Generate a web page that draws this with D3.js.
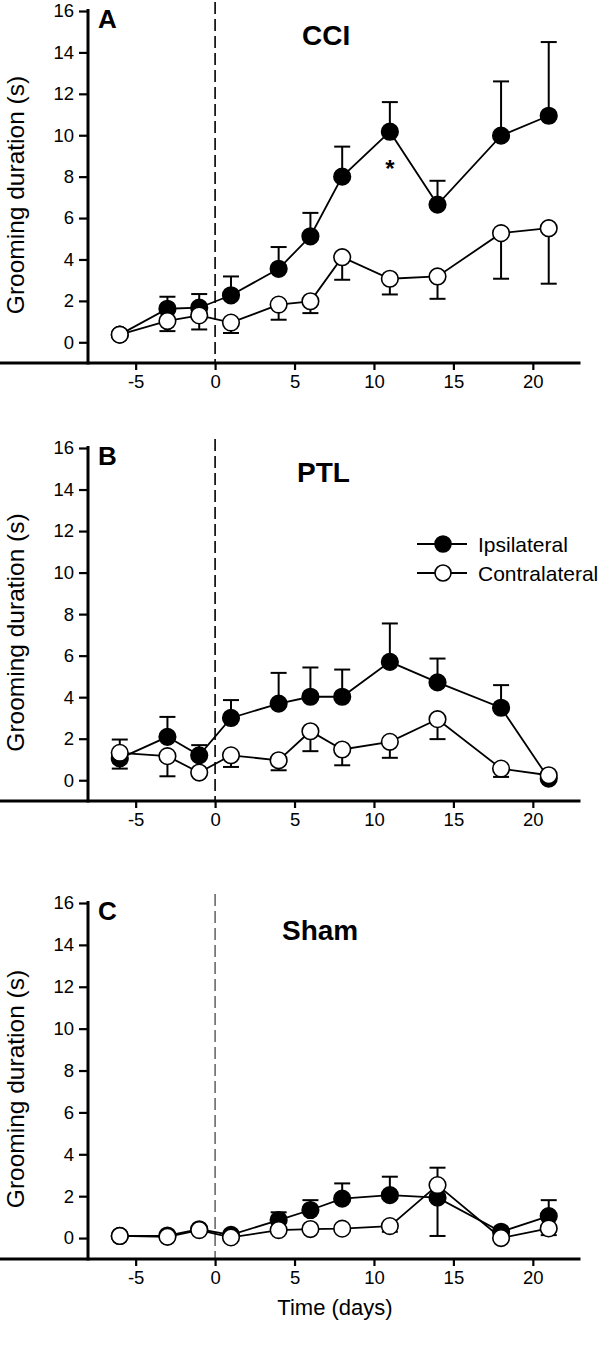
<!DOCTYPE html>
<html>
<head>
<meta charset="utf-8">
<script src="https://cdn.jsdelivr.net/npm/d3@7"></script>
<style>
  html, body { margin: 0; padding: 0; background: #fff; }
  svg { display: block; font-family: "Liberation Sans", Arial, sans-serif; }
</style>
</head>
<body>
<svg id="chart" width="600" height="1353"></svg>
<script>
// ---------------- data ----------------
const days = [-6, -3, -1, 1, 4, 6, 8, 11, 14, 18, 21];
const xTicks = [-5, 0, 5, 10, 15, 20];
const yTicks = [0, 2, 4, 6, 8, 10, 12, 14, 16];
const seriesNames = ["Ipsilateral", "Contralateral"];
const panelLetters = ["A", "B", "C"];
const panelTitles = ["CCI", "PTL", "Sham"];

// CCI
const cciIpsi      = [0.37, 1.62, 1.67, 2.27, 3.55, 5.12, 8.0, 10.17, 6.65, 9.98, 10.94];
const cciIpsiErr   = [null, 2.2, 2.33, 3.18, 4.6, 6.25, 9.45, 11.6, 7.8, 12.6, 14.5];
const cciContra    = [0.37, 1.03, 1.30, 0.95, 1.82, 1.98, 4.11, 3.07, 3.18, 5.27, 5.51];
const cciContraErr = [null, 0.54, 0.62, 0.45, 1.09, 1.41, 3.02, 2.31, 2.1, 3.07, 2.83];
// PTL
const ptlIpsi      = [1.05, 2.09, 1.2, 3.0, 3.69, 4.02, 4.02, 5.70, 4.71, 3.49, 0.08];
const ptlIpsiErr   = [1.96, 3.05, 1.69, 3.86, 5.17, 5.43, 5.33, 7.55, 5.86, 4.58, null];
const ptlContra    = [1.32, 1.16, 0.37, 1.2, 0.96, 2.36, 1.48, 1.85, 2.94, 0.56, 0.24];
const ptlContraErr = [0.56, 0.19, null, 0.64, 0.48, 1.40, 0.72, 1.08, 1.98, 0.16, null];
// Sham
const shamIpsi      = [0.1, 0.12, 0.42, 0.15, 0.86, 1.34, 1.88, 2.05, 1.93, 0.3, 1.05];
const shamIpsiErr   = [null, null, null, null, 1.23, 1.81, 2.61, 2.93, 0.1, null, 1.81];
const shamContra    = [0.1, 0.06, 0.38, 0.03, 0.38, 0.43, 0.45, 0.57, 2.53, 0.0, 0.46];
const shamContraErr = [null, null, null, null, 0.22, null, null, 0.3, 3.36, null, 0.14];

// significance marker (panel A, day 11)
const starDay = 11;
const starValue = 8.6;

// ---------------- layout ----------------
const svg = d3.select("#chart");
const panels = [
  {ipsi: cciIpsi, ipsiErr: cciIpsiErr, contra: cciContra, contraErr: cciContraErr, top: 11, bottom: 363, dash: "#000", dashW: 1.6},
  {ipsi: ptlIpsi, ipsiErr: ptlIpsiErr, contra: ptlContra, contraErr: ptlContraErr, top: 448, bottom: 801, dash: "#000", dashW: 1.6},
  {ipsi: shamIpsi, ipsiErr: shamIpsiErr, contra: shamContra, contraErr: shamContraErr, top: 903, bottom: 1259, dash: "#555", dashW: 1.4}
];

const x = d3.scaleLinear().domain([-8, 23]).range([88, 580.5]);

panels.forEach((p, pi) => {
  const y = d3.scaleLinear().domain([-1, 16]).range([p.bottom, p.top]);
  const g = svg.append("g");

  // dashed line at day 0
  g.append("line")
    .attr("x1", x(0)).attr("x2", x(0))
    .attr("y1", Math.max(0, p.top - 9)).attr("y2", p.bottom)
    .attr("stroke", p.dash).attr("stroke-width", p.dashW)
    .attr("stroke-dasharray", "12,5");

  // axes
  const yAxis = d3.axisLeft(y).tickValues(yTicks).tickSize(9).tickSizeOuter(0).tickPadding(5);
  const ya = g.append("g").attr("transform", `translate(${x(-8)},0)`).call(yAxis);
  const xAxis = d3.axisBottom(x).tickValues(xTicks).tickSize(7).tickSizeOuter(0).tickPadding(5)
    .tickFormat(d3.format("d"));
  const xa = g.append("g").attr("transform", `translate(0,${p.bottom})`).call(xAxis);
  [ya, xa].forEach(a => {
    a.attr("font-family", null).attr("font-size", 18.5);
    a.select(".domain").attr("stroke", "#000").attr("stroke-width", 3);
    a.selectAll(".tick line").attr("stroke", "#000").attr("stroke-width", 2.2);
    a.selectAll(".tick text").attr("fill", "#000").attr("font-size", 18.5);
  });
  xa.selectAll(".tick text").text(d => d < 0 ? "-" + Math.abs(d) : d);
  // make domain lines meet at the corner
  ya.select(".domain").attr("d", `M0,${p.top - 2}V${p.bottom + 1.5}`);
  xa.select(".domain").attr("d", `M${-1.5},0H${580.5}`);

  // y label
  g.append("text")
    .attr("transform", `translate(24,${(p.top + p.bottom) / 2 + 8}) rotate(-90)`)
    .attr("text-anchor", "middle")
    .attr("font-size", 24.5)
    .attr("fill", "#000")
    .text("Grooming duration (s)");

  // panel letter and title
  g.append("text").attr("x", 98).attr("y", p.top + 17)
    .attr("font-size", 26).attr("font-weight", "bold").text(panelLetters[pi]);
  g.append("text").attr("x", pi === 2 ? 282 : (pi === 1 ? 297 : 302)).attr("y", p.top + (pi === 2 ? 37 : 34))
    .attr("font-size", 28).attr("font-weight", "bold").text(panelTitles[pi]);

  // series: ipsilateral first (below), contralateral on top
  const series = [
    {vals: p.ipsi, errs: p.ipsiErr, fill: "#000"},
    {vals: p.contra, errs: p.contraErr, fill: "#fff"}
  ];
  const line = d3.line().x(d => x(d.day)).y(d => y(d.v));
  series.forEach(s => {
    const pts = days.map((d, i) => ({day: d, v: s.vals[i], e: s.errs[i]}));
    const sg = g.append("g");
    // error bars
    const eb = pts.filter(d => d.e !== null);
    sg.selectAll("line.eb").data(eb).enter().append("line")
      .attr("x1", d => x(d.day)).attr("x2", d => x(d.day))
      .attr("y1", d => y(d.v)).attr("y2", d => y(d.e))
      .attr("stroke", "#000").attr("stroke-width", 2);
    sg.selectAll("line.cap").data(eb).enter().append("line")
      .attr("x1", d => x(d.day) - 8).attr("x2", d => x(d.day) + 8)
      .attr("y1", d => y(d.e)).attr("y2", d => y(d.e))
      .attr("stroke", "#000").attr("stroke-width", 2);
    sg.append("path").datum(pts).attr("d", line)
      .attr("fill", "none").attr("stroke", "#000").attr("stroke-width", 1.8);
    sg.selectAll("circle").data(pts).enter().append("circle")
      .attr("cx", d => x(d.day)).attr("cy", d => y(d.v)).attr("r", 8.3)
      .attr("fill", s.fill).attr("stroke", "#000").attr("stroke-width", 1.6);
  });

  if (pi === 0) {
    g.append("text").attr("x", x(starDay)).attr("y", y(starValue) + 13)
      .attr("text-anchor", "middle").attr("font-size", 24).attr("font-weight", "bold")
      .text("*");
  }

  if (pi === 1) {
    // legend
    const lg = g.append("g");
    const ly = [544, 573];
    seriesNames.forEach((name, i) => {
      lg.append("line").attr("x1", 417).attr("x2", 467).attr("y1", ly[i]).attr("y2", ly[i])
        .attr("stroke", "#000").attr("stroke-width", 1.8);
      lg.append("circle").attr("cx", 443).attr("cy", ly[i]).attr("r", 8)
        .attr("fill", i === 0 ? "#000" : "#fff").attr("stroke", "#000").attr("stroke-width", 1.6);
      lg.append("text").attr("x", 478).attr("y", ly[i] + 7.5).attr("font-size", 21)
        .attr("fill", "#000").text(name);
    });
  }
});

// x-axis title
svg.append("text").attr("x", 335).attr("y", 1315)
  .attr("text-anchor", "middle").attr("font-size", 22).attr("fill", "#000")
  .text("Time (days)");
</script>
</body>
</html>
